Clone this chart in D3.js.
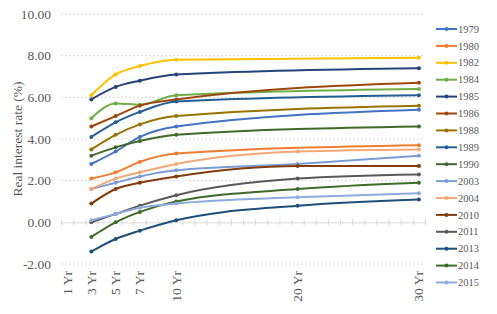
<!DOCTYPE html>
<html>
<head>
<meta charset="utf-8">
<script src="https://cdn.jsdelivr.net/npm/d3@7"></script>
<style>
  body { margin: 0; background: #fff; }
  text { font-family: "Liberation Serif", "DejaVu Serif", serif; }
</style>
</head>
<body>
<svg id="chart" width="497" height="314"></svg>
<script>
var width = 497;
var height = 314;
var fontFamily = "'Liberation Serif', 'DejaVu Serif', serif";

// maturities (years) and their labels
var maturities = [1, 3, 5, 7, 10, 20, 30];
var tickLabels = ["1 Yr", "3 Yr", "5 Yr", "7 Yr", "10 Yr", "20 Yr", "30 Yr"];
var yTicks = [-2, 0, 2, 4, 6, 8, 10];

// series: values at 1,3,5,7,10,20,30 Yr (null = no data)
var years = ["1979", "1980", "1982", "1984", "1985", "1986", "1988", "1989", "1990",
             "2003", "2004", "2010", "2011", "2013", "2014", "2015"];
var colors = ["#4472C4", "#ED7D31", "#FFC000", "#70AD47", "#264478", "#9E480E", "#997300", "#255E91", "#43682B",
              "#7C9CD6", "#F3A877", "#843C0C", "#595959", "#1F4E79", "#3F6B2A", "#8FAADC"];
var s1979 = [null, 2.8, 3.4, 4.1, 4.6, null, 5.4];
var s1980 = [null, 2.1, 2.4, 2.9, 3.3, null, 3.7];
var s1982 = [null, 6.1, 7.1, 7.5, 7.8, null, 7.9];
var s1984 = [null, 5.0, 5.7, 5.65, 6.1, null, 6.4];
var s1985 = [null, 5.9, 6.5, 6.8, 7.1, null, 7.4];
var s1986 = [null, 4.6, 5.1, 5.6, 5.9, null, 6.7];
var s1988 = [null, 3.5, 4.2, 4.7, 5.1, null, 5.6];
var s1989 = [null, 4.1, 4.8, 5.3, 5.8, null, 6.1];
var s1990 = [null, 3.2, 3.6, 3.9, 4.2, null, 4.6];
var s2003 = [null, 1.6, 1.9, 2.2, 2.5, 2.8, 3.2];
var s2004 = [null, 1.6, 2.1, 2.4, 2.8, 3.4, 3.5];
var s2010 = [null, 0.9, 1.6, 1.9, 2.2, 2.7, 2.7];
var s2011 = [null, 0.0, 0.4, 0.8, 1.3, 2.1, 2.3];
var s2013 = [null, -1.4, -0.8, -0.4, 0.1, 0.8, 1.1];
var s2014 = [null, -0.7, 0.0, 0.5, 1.0, 1.6, 1.9];
var s2015 = [null, 0.1, 0.4, 0.7, 0.9, 1.2, 1.4];
var seriesValues = [s1979, s1980, s1982, s1984, s1985, s1986, s1988, s1989, s1990,
                    s2003, s2004, s2010, s2011, s2013, s2014, s2015];

var svg = d3.select("#chart");

var margin = { left: 61, right: 72, top: 14, bottom: 50 };

var x = d3.scaleLinear()
  .domain([0.5, 30.5])
  .range([margin.left, width - margin.right]);

var y = d3.scaleLinear()
  .domain([-2, 10])
  .range([height - margin.bottom, margin.top]);

// gridlines
svg.append("g")
  .selectAll("line")
  .data(yTicks.filter(function(d) { return d !== 0; }))
  .enter().append("line")
    .attr("x1", x(0.5))
    .attr("x2", x(30.5))
    .attr("y1", function(d) { return y(d); })
    .attr("y2", function(d) { return y(d); })
    .attr("stroke", "#d9d9d9")
    .attr("stroke-width", 1)
    .attr("stroke-dasharray", "2,2");

// y tick labels
svg.append("g")
  .selectAll("text")
  .data(yTicks)
  .enter().append("text")
    .attr("x", 51)
    .attr("y", function(d) { return y(d); })
    .attr("dy", "0.35em")
    .attr("text-anchor", "end")
    .attr("font-family", fontFamily)
    .attr("font-size", 13.5)
    .attr("fill", "#595959")
    .text(function(d) { return d.toFixed(2); });

// x axis on zero line, with tick marks between each year
var xAxis = d3.axisBottom(x)
  .tickValues(d3.range(0.5, 31, 1))
  .tickSize(3)
  .tickFormat("")
  .tickSizeOuter(0);
var gx = svg.append("g")
  .attr("transform", "translate(0," + y(0) + ")")
  .call(xAxis);
gx.select(".domain").attr("stroke", "#d9d9d9");
gx.selectAll(".tick line")
  .attr("stroke", "#d9d9d9")
  .attr("y1", -3)
  .attr("y2", 3);

// x tick labels (rotated)
svg.append("g")
  .selectAll("text")
  .data(maturities)
  .enter().append("text")
    .attr("transform", function(d) { return "translate(" + (x(d) + 4.5) + "," + (y(-2) + 7) + ") rotate(-90)"; })
    .attr("text-anchor", "end")
    .attr("font-family", fontFamily)
    .attr("font-size", 13.5)
    .attr("fill", "#595959")
    .text(function(d, i) { return tickLabels[i]; });

// y axis title
svg.append("text")
  .attr("transform", "translate(22," + ((y(10) + y(-2)) / 2) + ") rotate(-90)")
  .attr("text-anchor", "middle")
  .attr("font-family", fontFamily)
  .attr("font-size", 13.5)
  .attr("fill", "#595959")
  .text("Real interest rate (%)");

// lines
var line = d3.line()
  .x(function(d) { return x(d.m); })
  .y(function(d) { return y(d.v); })
  .curve(d3.curveMonotoneX);

var series = years.map(function(yr, i) {
  return {
    name: yr,
    color: colors[i],
    points: maturities.map(function(m, j) { return { m: m, v: seriesValues[i][j] }; })
      .filter(function(p) { return p.v !== null; })
  };
});

var gs = svg.append("g")
  .selectAll("g")
  .data(series)
  .enter().append("g");

gs.append("path")
  .attr("d", function(d) { return line(d.points); })
  .attr("fill", "none")
  .attr("stroke", function(d) { return d.color; })
  .attr("stroke-width", 2);

gs.selectAll("circle")
  .data(function(d) { return d.points.map(function(p) { return { m: p.m, v: p.v, color: d.color }; }); })
  .enter().append("circle")
    .attr("cx", function(d) { return x(d.m); })
    .attr("cy", function(d) { return y(d.v); })
    .attr("r", 2)
    .attr("fill", function(d) { return d.color; });

// legend
var legend = svg.append("g")
  .selectAll("g")
  .data(series)
  .enter().append("g")
    .attr("transform", function(d, i) { return "translate(436," + (29 + i * 16.9) + ")"; });

legend.append("line")
  .attr("x1", 0)
  .attr("x2", 21)
  .attr("stroke", function(d) { return d.color; })
  .attr("stroke-width", 2);

legend.append("circle")
  .attr("cx", 10.5)
  .attr("r", 2)
  .attr("fill", function(d) { return d.color; });

legend.append("text")
  .attr("x", 22)
  .attr("dy", "0.35em")
  .attr("font-family", fontFamily)
  .attr("font-size", 10.5)
  .attr("fill", "#595959")
  .text(function(d) { return d.name; });
</script>
</body>
</html>
